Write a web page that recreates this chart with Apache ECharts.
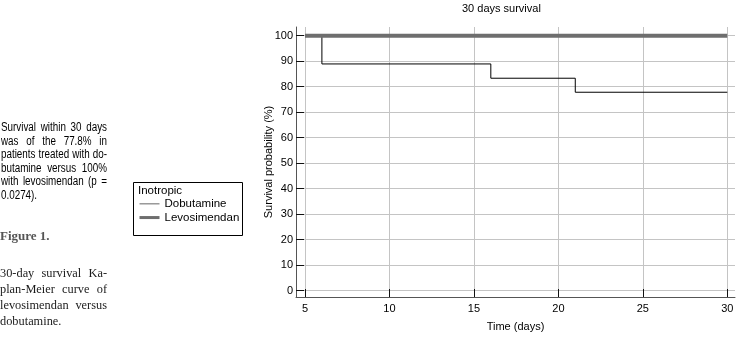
<!DOCTYPE html>
<html><head><meta charset="utf-8">
<script src="https://cdn.jsdelivr.net/npm/echarts@6/dist/echarts.min.js"></script>
<style>html,body{margin:0;padding:0;background:#fff}#c{width:738px;height:338px}</style>
</head><body><div id="c"></div>
<script>
// ---- data ----
const chartTitle = '30 days survival';
const seriesNames = ['Dobutamine', 'Levosimendan'];
const dobutamineDays = [5, 6, 16, 21, 30];
const dobutamineSurvival = [100, 88.9, 83.3, 77.8, 77.8];
const levosimendanDays = [5, 30];
const levosimendanSurvival = [100, 100];
const xTicks = [5, 10, 15, 20, 25, 30];
const yTicks = [0, 10, 20, 30, 40, 50, 60, 70, 80, 90, 100];
const legendTitle = 'Inotropic';
const xName = 'Time (days)';
const yName = 'Survival probability (%)';
const captionLines = [
  'Survival within 30 days',
  'was of the 77.8% in',
  'patients treated with do-',
  'butamine versus 100%',
  'with levosimendan (p =',
  '0.0274).'
];
const figureLabel = 'Figure 1.';
const figureCaption = [
  '30-day survival Ka-',
  'plan-Meier curve of',
  'levosimendan versus',
  'dobutamine.'
];

// ---- helpers ----
const SANS = '"Liberation Sans", Arial, sans-serif';
const SERIF = '"Liberation Serif", "Times New Roman", serif';
const measureCtx = document.createElement('canvas').getContext('2d');
function textEl(text, x, y, size, family, color, weight, sx) {
  return { type: 'text', x: x, y: y, scaleX: sx || 1, silent: true,
    style: { text: text, fontSize: size, fontFamily: family, fontWeight: weight || 'normal',
      fill: color, align: 'left', verticalAlign: 'middle' } };
}
function justified(lines, x, width, y0, gap, size, family, color, weight, sx) {
  sx = sx || 1;
  measureCtx.font = (weight || 'normal') + ' ' + size + 'px ' + family;
  const out = [];
  lines.forEach(function (line, i) {
    const y = y0 + i * gap;
    const words = line.split(' ');
    if (i === lines.length - 1 || words.length < 2) {
      out.push(textEl(line, x, y, size, family, color, weight, sx));
      return;
    }
    const widths = words.map(function (w) { return measureCtx.measureText(w).width * sx; });
    const total = widths.reduce(function (a, b) { return a + b; }, 0);
    const sp = (width - total) / (words.length - 1);
    let cx = x;
    words.forEach(function (w, k) {
      out.push(textEl(w, cx, y, size, family, color, weight, sx));
      cx += widths[k] + sp;
    });
  });
  return out;
}
function zip(a, b) { return a.map(function (v, i) { return [v, b[i]]; }); }

const graphics = []
  .concat(justified(captionLines, 1, 106, 128, 13.5, 12, SANS, '#000', 'normal', 0.82))
  .concat([textEl(figureLabel, 0, 237, 13, SERIF, '#555', 'bold')])
  .concat(justified(figureCaption, 0, 107, 273.5, 16.1, 13, SERIF, '#1a1a1a', 'normal', 0.95))
  .concat([
    { type: 'rect', silent: true, shape: { x: 133.5, y: 182.5, width: 109, height: 53 },
      style: { fill: 'none', stroke: '#000', lineWidth: 1 } },
    textEl(legendTitle, 138, 191, 11.5, SANS, '#000')
  ]);

const chart = echarts.init(document.getElementById('c'), null, { renderer: 'canvas' });
chart.setOption({
  animation: false,
  backgroundColor: '#fff',
  title: { text: chartTitle, left: 462, top: 3, padding: 0,
    textStyle: { fontSize: 11, fontWeight: 'normal', color: '#000', fontFamily: SANS } },
  grid: { left: 296, right: 3, top: 27, bottom: 41 },
  legend: {
    data: [
      { name: seriesNames[0], lineStyle: { width: 1, color: '#666' } },
      { name: seriesNames[1], lineStyle: { width: 3, color: '#6e6e6e' } }
    ],
    orient: 'vertical', left: 138, top: 197, padding: 0,
    itemWidth: 20, itemHeight: 10, itemGap: 0,
    itemStyle: { color: 'transparent', borderWidth: 0 },
    textStyle: { fontSize: 11.5, lineHeight: 13.7, color: '#000', fontFamily: SANS }
  },
  xAxis: {
    type: 'value', min: 4.467, max: 30.456,
    name: xName, nameLocation: 'middle', nameGap: 24, nameMoveOverlap: false,
    nameTextStyle: { fontSize: 11, color: '#000', fontFamily: SANS },
    axisLine: { show: true, onZero: false, lineStyle: { color: '#555' } },
    axisTick: { show: true, inside: true, length: 8, customValues: xTicks, lineStyle: { color: '#111' } },
    axisLabel: { customValues: xTicks, margin: 6, fontSize: 11, color: '#000', fontFamily: SANS },
    splitLine: { show: true, lineStyle: { color: '#c4c4c4' } }
  },
  yAxis: {
    type: 'value', min: -2.55, max: 103.4,
    name: yName, nameLocation: 'middle', nameGap: 22, nameMoveOverlap: false,
    nameTextStyle: { fontSize: 11, color: '#000', fontFamily: SANS },
    axisLine: { show: true, onZero: false, lineStyle: { color: '#555' } },
    axisTick: { show: true, inside: true, length: 8, customValues: yTicks, lineStyle: { color: '#111' } },
    axisLabel: { customValues: yTicks, margin: 3, fontSize: 11, color: '#000', fontFamily: SANS },
    splitLine: { show: true, lineStyle: { color: '#c4c4c4' } }
  },
  series: [
    { name: seriesNames[0], type: 'line', step: 'end', symbol: 'none', z: 2,
      data: zip(dobutamineDays, dobutamineSurvival),
      lineStyle: { color: '#000', width: 1 }, itemStyle: { color: '#000' } },
    { name: seriesNames[1], type: 'line', step: 'end', symbol: 'none', z: 3,
      data: zip(levosimendanDays, levosimendanSurvival),
      lineStyle: { color: '#6e6e6e', width: 4 }, itemStyle: { color: '#6e6e6e' } }
  ],
  graphic: graphics
});
</script></body></html>
